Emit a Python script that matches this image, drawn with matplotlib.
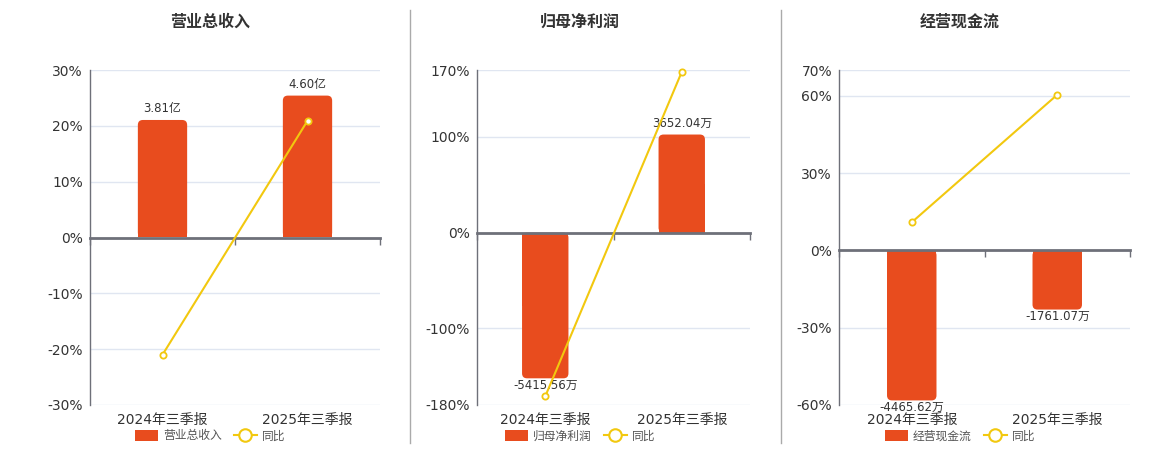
import matplotlib
matplotlib.use("Agg")
import matplotlib.pyplot as plt
from matplotlib.patches import Patch, FancyBboxPatch
from matplotlib.lines import Line2D

plt.rcParams['font.family'] = ['DejaVu Sans', 'Noto Sans CJK SC']

quarters = ['2024年三季报', '2025年三季报']

revenue = [3.81, 4.60]
revenue_text = ['3.81亿', '4.60亿']
revenue_yoy = [-21.0, 20.9]

profit = [-5415.56, 3652.04]
profit_text = ['-5415.56万', '3652.04万']
profit_yoy = [-171.0, 168.0]

cashflow = [-4465.62, -1761.07]
cashflow_text = ['-4465.62万', '-1761.07万']
cashflow_yoy = [10.9, 60.4]

titles = ['营业总收入', '归母净利润', '经营现金流']
pct_ticks = [
    [30, 20, 10, 0, -10, -20, -30],
    [170, 100, 0, -100, -180],
    [70, 60, 30, 0, -30, -60],
]

BAR = '#E84C1E'
LINE = '#F2C80F'
AXIS = '#6E7079'
GRID = '#E0E6F1'
TXT = '#333333'

W, H = 1160, 450
# left px, right px, centre px of title/legend, bar units per percent
layout = [
    (90, 380, 210, 0.181),
    (477, 750, 580, 35.6),
    (839, 1130, 960, 76.7),
]
top_px, bottom_px = 70, 405

fig = plt.figure(figsize=(W / 100, H / 100), dpi=100)

series = [
    (revenue, revenue_text, revenue_yoy),
    (profit, profit_text, profit_yoy),
    (cashflow, cashflow_text, cashflow_yoy),
]

x = [0, 1]
bw = 0.34

for i, ((vals, texts, yoy), (lpx, rpx, cpx, k)) in enumerate(zip(series, layout)):
    rect = [lpx / W, 1 - bottom_px / H, (rpx - lpx) / W, (bottom_px - top_px) / H]
    ax = fig.add_axes(rect)
    ticks = pct_ticks[i]
    lo, hi = min(ticks), max(ticks)

    # bars on the hidden value axis
    ax.set_xlim(-0.5, 1.5)
    ax.set_ylim(lo * k, hi * k)
    ax.set_yticks([t * k for t in ticks])
    ax.grid(axis='y', color=GRID, lw=1)
    ax.set_axisbelow(True)
    ax.set_xticks(x, quarters)
    ax.tick_params(axis='x', length=0, pad=6, labelsize=10, labelcolor=TXT)
    for s in ax.spines.values():
        s.set_visible(False)

    bars = ax.bar(x, [v / 2 for v in vals], width=bw, color=BAR, zorder=2)
    sx = (rpx - lpx) / 2.0
    sy = (bottom_px - top_px) / ((hi - lo) * k)
    r = 5 / sx
    for b, v in zip(bars, vals):
        fb = FancyBboxPatch((b.get_x(), min(0, v)), bw, abs(v),
                            boxstyle=f"round,pad=0,rounding_size={r}",
                            mutation_aspect=sx / sy, fc=BAR, ec='none', zorder=2)
        ax.add_patch(fb)
    for xi, v, t in zip(x, vals, texts):
        if v >= 0:
            ax.annotate(t, (xi, v), xytext=(0, 3.5), textcoords='offset points',
                        ha='center', va='bottom', fontsize=8.5, color=TXT)
        else:
            ax.annotate(t, (xi, v), xytext=(0, -0.5), textcoords='offset points',
                        ha='center', va='top', fontsize=8.5, color=TXT)

    # percent axis with the yoy line
    ax2 = ax.twinx()
    ax.tick_params(axis='y', left=False, right=False, labelleft=False, labelright=False)
    ax2.set_ylim(lo, hi)
    ax2.yaxis.tick_left()
    ax2.set_yticks(ticks, [f'{t}%' for t in ticks])
    ax2.tick_params(axis='y', length=0, pad=5, labelsize=10, labelcolor=TXT)
    for name, s in ax2.spines.items():
        s.set_visible(name == 'left')
    ax2.spines['left'].set_color(AXIS)
    ax2.spines['left'].set_linewidth(1)
    ax2.plot(x, yoy, color=LINE, lw=1.5, marker='o', ms=4.5, mfc='white',
             mec=LINE, mew=1.3, zorder=5, clip_on=False)

    zero = (0 - lo) / (hi - lo)
    sec = ax2.secondary_xaxis(zero)
    sec.set_alignment('bottom')
    sec.set_xticks([-0.5, 0.5, 1.5])
    sec.tick_params(length=5, width=1, color=AXIS, labelbottom=False, direction='out')
    sec.spines['bottom'].set_color(AXIS)
    sec.spines['bottom'].set_linewidth(2)

    fig.text(cpx / W, 1 - 22 / H, titles[i], ha='center', va='center',
             fontsize=11.5, fontweight='bold', color=TXT)

    handles = [Patch(facecolor=BAR, edgecolor='none'),
               Line2D([], [], color=LINE, lw=1.5, marker='o', ms=9, mfc='white',
                      mec=LINE, mew=1.5)]
    fig.legend(handles, [titles[i], '同比'], loc='center',
               bbox_to_anchor=(cpx / W, 1 - 436 / H), ncol=2, frameon=False,
               fontsize=8.5, handlelength=2.0, handleheight=1.0,
               handletextpad=0.4, columnspacing=1.0, labelcolor='#555555',
               borderaxespad=0, borderpad=0)

for xs in (410, 781):
    fig.add_artist(Line2D([xs / W, xs / W], [1 - 10 / H, 1 - 443 / H],
                          color='#AAAAAA', lw=1))

fig.savefig('out.png', dpi=100)
